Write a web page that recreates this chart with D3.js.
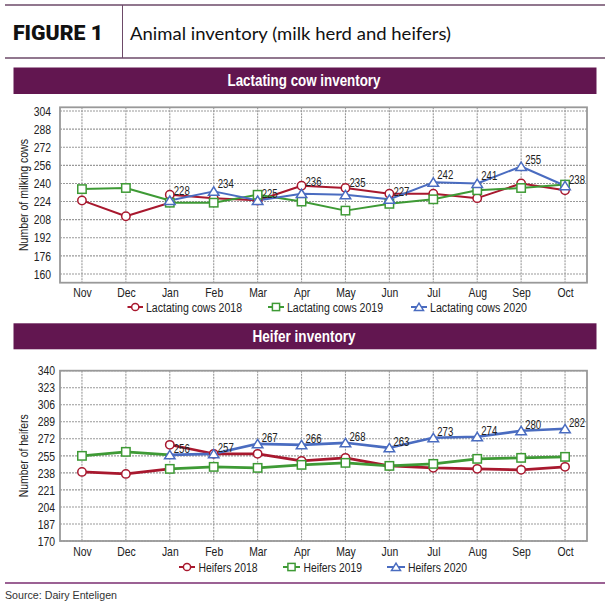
<!DOCTYPE html>
<html><head><meta charset="utf-8">
<script src="https://cdn.jsdelivr.net/npm/d3@7"></script>
<style>body{margin:0;background:#fff}</style>
</head><body>
<script>
// ---------- data ----------
const months = ["Nov","Dec","Jan","Feb","Mar","Apr","May","Jun","Jul","Aug","Sep","Oct"];

const cowTicks = [160,176,192,208,224,240,256,272,288,304];
const cows2018 = [225, 211, 230, 227, 225, 238, 236, 231, 231, 227, 240, 234];
const cows2019 = [235, 236, 223, 223, 230, 224, 216, 222, 226, 234, 236, 239];
const cows2020 = [null, null, 225, 233, 225, 231, 230, 226, 241, 240, 255, 238];
const cowLabels = [228, 234, 225, 236, 235, 227, 242, 241, 255, 238];

const heiferTicks = [170,187,204,221,238,255,272,289,306,323,340];
const heifers2018 = [239, 237, 266, 257, 257, 250, 253, 245, 243, 242, 241, 244];
const heifers2019 = [255, 259, 242, 244, 243, 246, 248, 245, 247, 252, 253, 254];
const heifers2020 = [null, null, 256, 257, 267, 266, 268, 263, 273, 274, 280, 282];
const heiferLabels = [256, 257, 267, 266, 268, 263, 273, 274, 280, 282];

const cowSeriesNames = ["Lactating cows 2018","Lactating cows 2019","Lactating cows 2020"];
const heiferSeriesNames = ["Heifers 2018","Heifers 2019","Heifers 2020"];

// ---------- style ----------
const RED = "#a8182e", GREEN = "#3e9a35", BLUE = "#4a6cc0";
const PURPLE = "#621650";
const NARROW = "'Liberation Sans Narrow','Arial Narrow','Liberation Sans',Arial,sans-serif";
const SQUEEZE = 0.8;

function narrow(sel){
  sel.each(function(){
    const w = this.getComputedTextLength();
    d3.select(this).attr("textLength", w*SQUEEZE).attr("lengthAdjust","spacingAndGlyphs");
  });
}

const svg = d3.select("body").append("svg").attr("width", 610).attr("height", 607);

// ---------- header ----------
svg.append("line").attr("x1",5).attr("x2",605).attr("y1",5).attr("y2",5)
  .attr("stroke","#6d4a68").attr("stroke-width",1.5);
svg.append("line").attr("x1",5).attr("x2",605).attr("y1",58).attr("y2",58)
  .attr("stroke","#6d4a68").attr("stroke-width",1.5);
svg.append("line").attr("x1",122.5).attr("x2",122.5).attr("y1",5).attr("y2",58)
  .attr("stroke","#6d4a68").attr("stroke-width",1);
svg.append("text").attr("x",13).attr("y",40)
  .attr("font-family","Roboto,'DejaVu Sans',sans-serif").attr("font-weight",900)
  .attr("font-size",20).attr("fill","#111")
  .attr("textLength",90).attr("lengthAdjust","spacingAndGlyphs").text("FIGURE 1");
svg.append("text").attr("x",130).attr("y",40)
  .attr("font-family","Lato,'Open Sans',sans-serif").attr("font-size",17.5).attr("fill","#111")
  .attr("textLength",321).attr("lengthAdjust","spacingAndGlyphs")
  .text("Animal inventory (milk herd and heifers)");

// source + bottom rule
svg.append("line").attr("x1",5).attr("x2",605).attr("y1",583).attr("y2",583)
  .attr("stroke","#7a2d70").attr("stroke-width",1.5);
svg.append("text").attr("x",5).attr("y",599)
  .attr("font-family","'Liberation Sans',Arial,sans-serif").attr("font-size",11).attr("fill","#333")
  .attr("textLength",112).attr("lengthAdjust","spacingAndGlyphs")
  .text("Source: Dairy Enteligen");

function banner(y0, h, label, tl){
  svg.append("rect").attr("x",13.5).attr("y",y0).attr("width",583).attr("height",h).attr("fill",PURPLE);
  svg.append("text").attr("x",304).attr("y",y0+h/2+5.5).attr("text-anchor","middle")
    .attr("font-family",NARROW).attr("font-weight","bold").attr("font-size",16).attr("fill","#fff")
    .attr("textLength",tl).attr("lengthAdjust","spacingAndGlyphs").text(label);
}

function marker(sel, shape, color, size){
  if (shape === "circle") {
    sel.append("circle").attr("r", size).attr("fill","#fff").attr("stroke",color).attr("stroke-width",1.5);
  } else if (shape === "square") {
    sel.append("rect").attr("x",-size).attr("y",-size).attr("width",size*2).attr("height",size*2)
      .attr("fill","#fff").attr("stroke",color).attr("stroke-width",1.5);
  } else {
    const w = size*1.25, h = size*1.05;
    sel.append("path").attr("d",`M0,${-h}L${w},${h*0.9}L${-w},${h*0.9}Z`)
      .attr("fill","#fff").attr("stroke",color).attr("stroke-width",1.5);
  }
}

function chart(o){
  const x = d3.scalePoint().domain(months).range([o.x0, o.x1]).padding(0.5);
  const y = d3.scaleLinear().domain(o.domain).range([o.y1, o.y0]);
  const g = svg.append("g");

  // grid
  g.selectAll(".hg").data(o.ticks).join("line")
    .attr("x1",o.x0).attr("x2",o.x1).attr("y1",d=>y(d)).attr("y2",d=>y(d))
    .attr("stroke","#999").attr("stroke-width",1.1).attr("stroke-dasharray","2,1");
  g.selectAll(".vg").data(months).join("line")
    .attr("x1",d=>x(d)).attr("x2",d=>x(d)).attr("y1",o.y0).attr("y2",o.y1)
    .attr("stroke","#999").attr("stroke-width",1.1).attr("stroke-dasharray","2,1");
  g.append("rect").attr("x",o.x0).attr("y",o.y0).attr("width",o.x1-o.x0).attr("height",o.y1-o.y0)
    .attr("fill","none").attr("stroke","#999").attr("stroke-width",1.8);

  // y axis
  const ya = g.append("g").attr("transform",`translate(${o.x0},0)`)
    .call(d3.axisLeft(y).tickValues(o.ticks).tickSize(0).tickPadding(o.x0 - o.labelEnd));
  ya.select(".domain").remove();
  ya.selectAll("text").attr("font-family",NARROW).attr("font-size",13).attr("fill","#222").call(narrow);

  // x axis
  const xa = g.append("g").attr("transform",`translate(0,${o.y1})`)
    .call(d3.axisBottom(x).tickSize(0));
  xa.select(".domain").remove();
  xa.selectAll("text").attr("font-family",NARROW).attr("font-size",13).attr("fill","#222")
    .attr("dy",null).attr("y", o.xLabelBaseline - o.y1).call(narrow);

  // y title
  g.append("text").attr("transform",`translate(${o.titleX},${(o.y0+o.y1)/2}) rotate(-90)`)
    .attr("text-anchor","middle").attr("font-family",NARROW).attr("font-size",13).attr("fill","#222")
    .attr("textLength",o.titleLen).attr("lengthAdjust","spacingAndGlyphs")
    .text(o.yTitle);

  const line = d3.line().x(d=>x(d.m)).y(d=>y(d.v));

  // lines
  o.series.forEach((s,i) => {
    const main = months.map((m,j)=>({m, v:s.values[j], j})).filter(d=>d.j>=2 && d.v!=null);
    g.append("path").attr("d", line(main)).attr("fill","none").attr("stroke",s.color)
      .attr("stroke-width",o.lw).attr("stroke-linejoin","round");
    const next = o.series[i+1];
    if (s.values[0] != null && next) {
      const tail = [{m:months[0],v:s.values[0]},{m:months[1],v:s.values[1]},{m:months[2],v:next.values[2]}];
      g.append("path").attr("d", line(tail)).attr("fill","none").attr("stroke",s.color)
        .attr("stroke-width",o.lw).attr("stroke-linejoin","round");
    }
  });
  // markers
  o.series.forEach(s => {
    const pts = months.map((m,j)=>({m, v:s.values[j]})).filter(d=>d.v!=null);
    pts.forEach(d => {
      const mg = g.append("g").attr("transform",`translate(${x(d.m)},${y(d.v)})`);
      marker(mg, s.shape, s.color, 4.2);
    });
  });
  // data labels
  g.selectAll(".lbl").data(o.labels).join("text")
    .attr("x",(d,i)=>x(months[i+2])+4).attr("y",d=>y(d)-2)
    .attr("font-family",NARROW).attr("font-size",12).attr("fill","#222")
    .text(d=>d).call(narrow);

  // legend
  o.series.forEach((s,i) => {
    const it = o.legend.items[i];
    const lg = g.append("g");
    lg.append("line").attr("x1",it.x0).attr("x2",it.x1).attr("y1",o.legend.y).attr("y2",o.legend.y)
      .attr("stroke",s.color).attr("stroke-width",2);
    const mg = lg.append("g").attr("transform",`translate(${(it.x0+it.x1)/2},${o.legend.y})`);
    marker(mg, s.shape, s.color, 3.6);
    lg.append("text").attr("x",it.tx).attr("y",o.legend.y+4.5)
      .attr("font-family",NARROW).attr("font-size",12.5).attr("fill","#222")
      .attr("textLength",it.tw).attr("lengthAdjust","spacingAndGlyphs").text(s.name);
  });
}

banner(67.5, 26.5, "Lactating cow inventory", 153);
chart({
  x0:60, x1:587, y0:107.3, y1:282.7, domain:[152.3, 307.3], ticks:cowTicks,
  labelEnd:51, xLabelBaseline:297, titleX:28, titleLen:112, yTitle:"Number of milking cows", lw:2,
  labels: cowLabels,
  series:[
    {name:cowSeriesNames[0], values:cows2018, color:RED, shape:"circle"},
    {name:cowSeriesNames[1], values:cows2019, color:GREEN, shape:"square"},
    {name:cowSeriesNames[2], values:cows2020, color:BLUE, shape:"triangle"}
  ],
  legend:{y:307, items:[{x0:127.5,x1:143,tx:146,tw:96},{x0:268,x1:284,tx:287,tw:96},{x0:411,x1:427,tx:430,tw:97}]}
});

banner(323.3, 26, "Heifer inventory", 103);
chart({
  x0:60, x1:587, y0:370.7, y1:541, domain:[170, 340], ticks:heiferTicks,
  labelEnd:55, xLabelBaseline:556, titleX:28, titleLen:83, yTitle:"Number of heifers", lw:2.6,
  labels: heiferLabels,
  series:[
    {name:heiferSeriesNames[0], values:heifers2018, color:RED, shape:"circle"},
    {name:heiferSeriesNames[1], values:heifers2019, color:GREEN, shape:"square"},
    {name:heiferSeriesNames[2], values:heifers2020, color:BLUE, shape:"triangle"}
  ],
  legend:{y:567, items:[{x0:179,x1:195,tx:198.5,tw:59},{x0:283,x1:300,tx:303.5,tw:58.5},{x0:387,x1:405,tx:408,tw:59}]}
});
</script>
</body></html>
